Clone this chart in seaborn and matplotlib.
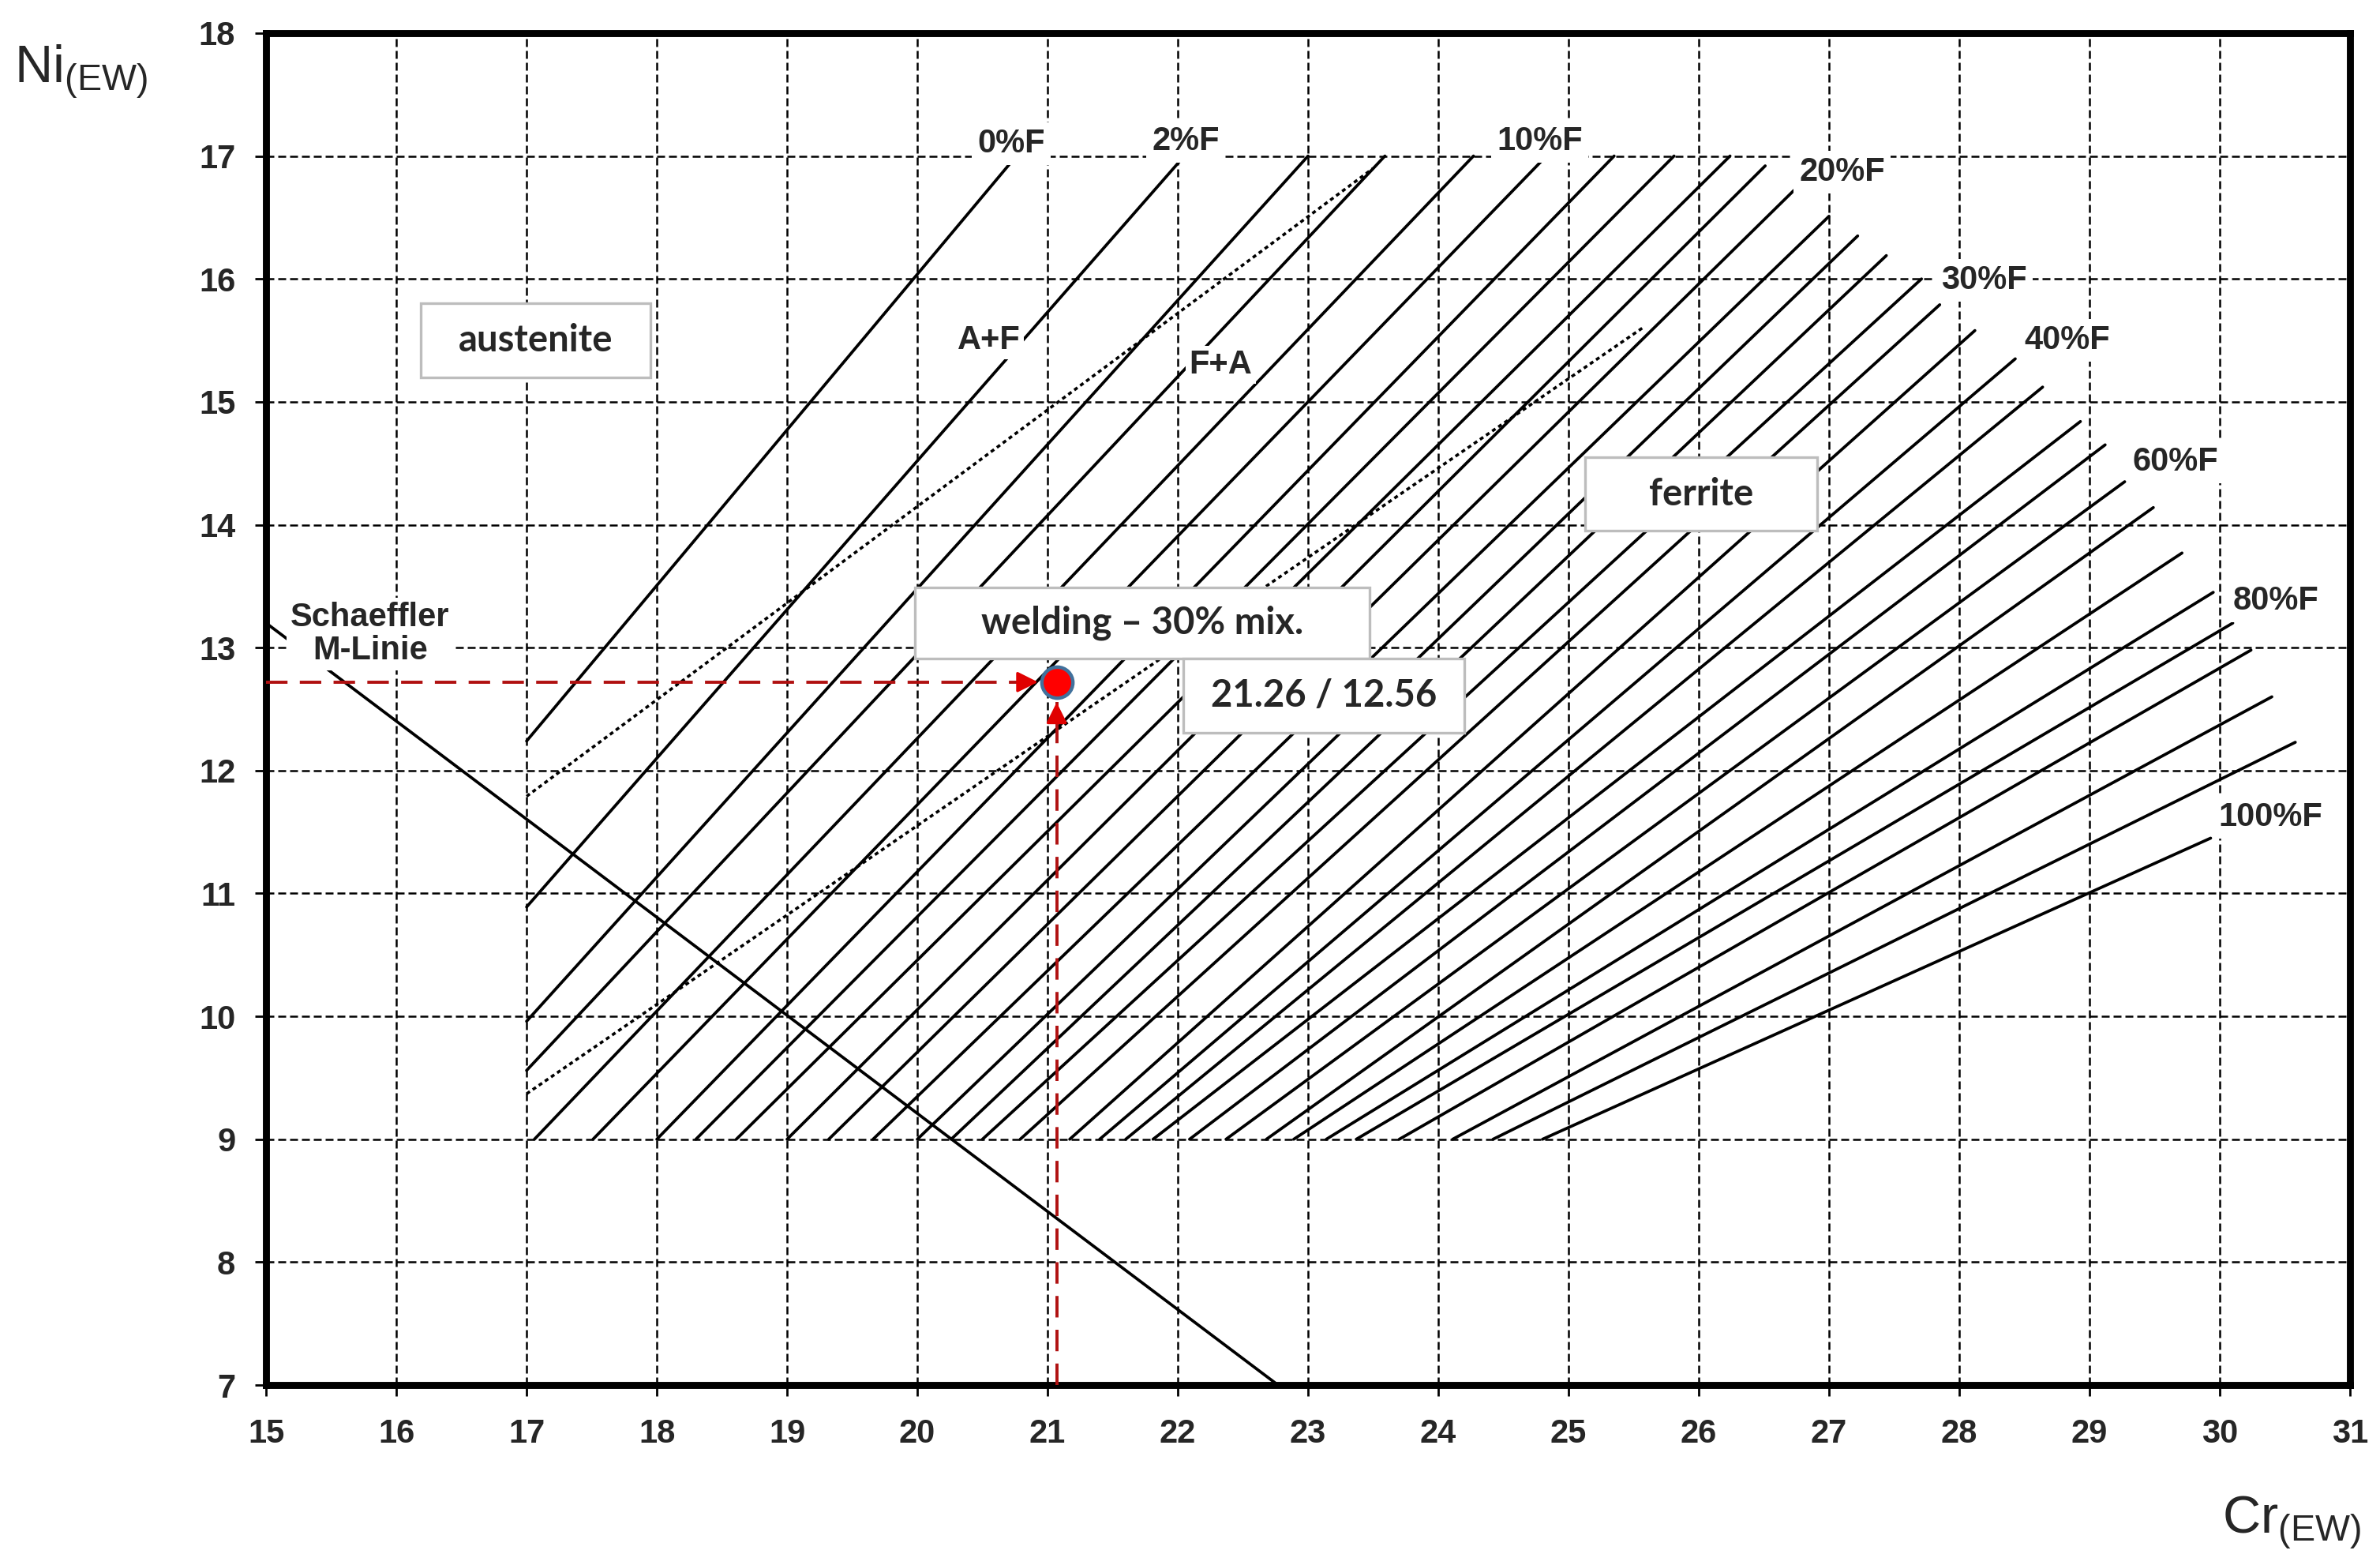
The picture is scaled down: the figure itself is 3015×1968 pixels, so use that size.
# Iso-ferrite diagram (Cr_EW / Ni_EW) with the welding point
import pandas as pd
import seaborn as sns
import matplotlib.pyplot as plt
from matplotlib.patches import Rectangle

# iso-ferrite lines: start and end points
ferrite_pct = [0, 2, 4, 6, 8, 10, 12, 14, 16, 18, 20, 22, 24, 26, 28, 30,
               35, 40, 45, 50, 55, 60, 65, 70, 75, 80, 85, 90, 95, 100]
start_cr = [17.00, 17.00, 17.00, 17.00, 17.06, 17.51, 18.00, 18.30, 18.61, 19.00,
            19.32, 19.66, 20.00, 20.26, 20.50, 20.79, 21.17, 21.40, 21.60, 21.81,
            22.09, 22.37, 22.68, 22.89, 23.14, 23.37, 23.70, 24.11, 24.42, 24.80]
start_ni = [12.24, 10.89, 9.96, 9.56, 9.0, 9.0, 9.0, 9.0, 9.0, 9.0,
            9.0, 9.0, 9.0, 9.0, 9.0, 9.0, 9.0, 9.0, 9.0, 9.0,
            9.0, 9.0, 9.0, 9.0, 9.0, 9.0, 9.0, 9.0, 9.0, 9.0]
end_cr = [20.76, 22.05, 23.00, 23.59, 24.27, 24.83, 25.35, 25.81, 26.24, 26.51,
          26.73, 27.00, 27.22, 27.44, 27.71, 27.85, 28.12, 28.43, 28.64, 28.93,
          29.12, 29.27, 29.49, 29.71, 29.95, 30.10, 30.24, 30.40, 30.58, 29.93]
end_ni = [17.0, 17.0, 17.0, 17.0, 17.0, 17.0, 17.0, 17.0, 17.0, 16.92,
          16.72, 16.51, 16.35, 16.19, 16.00, 15.79, 15.58, 15.35, 15.12, 14.84,
          14.65, 14.35, 14.14, 13.77, 13.45, 13.20, 12.98, 12.60, 12.23, 11.45]

# dotted phase boundaries (A+F / F+A)
boundary_names = ['A+F', 'F+A']
boundary_start_cr = [17.0, 17.0]
boundary_start_ni = [11.79, 9.37]
boundary_end_cr = [23.50, 25.58]
boundary_end_ni = [16.90, 15.61]

# Schaeffler M-line
schaeffler_cr = [15.0, 22.77]
schaeffler_ni = [13.20, 7.0]

# welding point
point_cr = 21.07
point_ni = 12.72
point_text = '21.26 / 12.56'

x_ticks = list(range(15, 32))
y_ticks = list(range(7, 19))

# %F labels
labelled_pct = [0, 2, 10, 20, 30, 40, 60, 80, 100]
label_cr = [20.72, 22.06, 24.78, 27.10, 28.19, 28.83, 29.66, 30.43, 30.39]
label_ni = [17.10, 17.12, 17.12, 16.87, 15.99, 15.50, 14.51, 13.38, 11.62]

# phase labels
phase_names = ['A+F', 'F+A']
phase_cr = [20.55, 22.33]
phase_ni = [15.50, 15.30]

# boxed labels
box_texts = ['austenite', 'ferrite', 'welding \u2013 30% mix.', point_text]
box_x0 = [16.19, 25.13, 19.98, 22.04]
box_x1 = [17.95, 26.91, 23.47, 24.20]
box_y0 = [15.20, 13.95, 12.91, 12.31]
box_y1 = [15.80, 14.55, 13.49, 12.91]

sns.set_theme(style='white')
plt.rcParams['font.family'] = ['Liberation Sans', 'DejaVu Sans']
plt.rcParams['mathtext.default'] = 'regular'

fig = plt.figure(figsize=(15.075, 9.84), dpi=200)
ax = fig.add_axes([0.1118, 0.1087, 0.8756, 0.8700])

rows = []
for pct, x0, y0, x1, y1 in zip(ferrite_pct, start_cr, start_ni, end_cr, end_ni):
    rows.append({'line': pct, 'cr': x0, 'ni': y0})
    rows.append({'line': pct, 'cr': x1, 'ni': y1})
iso = pd.DataFrame(rows)

rows = []
for name, x0, y0, x1, y1 in zip(boundary_names, boundary_start_cr, boundary_start_ni,
                                boundary_end_cr, boundary_end_ni):
    rows.append({'line': name, 'cr': x0, 'ni': y0})
    rows.append({'line': name, 'cr': x1, 'ni': y1})
bounds = pd.DataFrame(rows)

sns.lineplot(data=iso, x='cr', y='ni', units='line', estimator=None, sort=False,
             color='black', linewidth=1.35, ax=ax, legend=False, zorder=3)
sns.lineplot(data=bounds, x='cr', y='ni', units='line', estimator=None, sort=False,
             color='black', linewidth=1.3, linestyle=(0, (1.4, 1.2)), ax=ax,
             legend=False, zorder=3)
sns.lineplot(x=schaeffler_cr, y=schaeffler_ni, color='black', linewidth=1.35,
             ax=ax, zorder=3)

# red guide lines to the point
red = '#B01010'
ax.plot([15, point_cr - 0.14], [point_ni, point_ni], color=red, lw=1.4,
        linestyle=(0, (7, 4)), zorder=4)
ax.plot([point_cr, point_cr], [7, point_ni - 0.16], color=red, lw=1.4,
        linestyle=(0, (7, 4)), zorder=4)
ax.annotate('', xy=(point_cr - 0.11, point_ni), xytext=(point_cr - 0.3, point_ni),
            arrowprops=dict(arrowstyle='-|>', color='#E00000', lw=1.2,
                            mutation_scale=20), zorder=4)
ax.annotate('', xy=(point_cr, point_ni - 0.13), xytext=(point_cr, point_ni - 0.35),
            arrowprops=dict(arrowstyle='-|>', color='#E00000', lw=1.2,
                            mutation_scale=20), zorder=4)
sns.scatterplot(x=[point_cr], y=[point_ni], s=200, color='#FF0000',
                edgecolor='#41719C', linewidth=1.6, ax=ax, zorder=7)

for pct, x, y in zip(labelled_pct, label_cr, label_ni):
    ax.text(x, y, f'{pct}%F', ha='center', va='center', fontsize=15,
            fontweight='bold', zorder=6,
            bbox=dict(facecolor='white', edgecolor='none', pad=2.5))

for name, x, y in zip(phase_names, phase_cr, phase_ni):
    ax.text(x, y, name, ha='center', va='center', fontsize=15,
            fontweight='bold', zorder=6,
            bbox=dict(facecolor='white', edgecolor='none', pad=1.5))

ax.text(15.80, 13.11, 'Schaeffler\nM-Linie', ha='center', va='center',
        fontsize=15, fontweight='bold', linespacing=1.05, zorder=6,
        bbox=dict(facecolor='white', edgecolor='none', pad=2))

for txt, x0, x1, y0, y1 in zip(box_texts, box_x0, box_x1, box_y0, box_y1):
    ax.add_patch(Rectangle((x0, y0), x1 - x0, y1 - y0, facecolor='white',
                           edgecolor='#BDBDBD', lw=1.2, zorder=5))
    ax.text((x0 + x1) / 2, (y0 + y1) / 2, txt, ha='center', va='center',
            fontsize=17, fontweight='bold', family=['Lato', 'DejaVu Sans'],
            zorder=6)

ax.set_xlim(15, 31)
ax.set_ylim(7, 18)
ax.set_xticks(x_ticks)
ax.set_yticks(y_ticks)
ax.set_xlabel('')
ax.set_ylabel('')
ax.grid(True, color='black', linestyle=(0, (4, 2)), linewidth=0.9)
ax.set_axisbelow(True)
for sp in ax.spines.values():
    sp.set_visible(True)
    sp.set_color('black')
    sp.set_linewidth(3.2)
ax.tick_params(axis='both', direction='out', length=5, width=1.0, color='black',
               labelsize=15, bottom=True, left=True)
ax.tick_params(axis='x', pad=10)
ax.tick_params(axis='y', pad=9)
for lab in ax.get_xticklabels() + ax.get_yticklabels():
    lab.set_fontweight('bold')

fig.text(0.006, 0.954, r'Ni$_{(EW)}$', ha='left', va='center', fontsize=24)
fig.text(0.992, 0.020, r'Cr$_{(EW)}$', ha='right', va='center', fontsize=24)

fig.savefig('out.png', dpi=200)
